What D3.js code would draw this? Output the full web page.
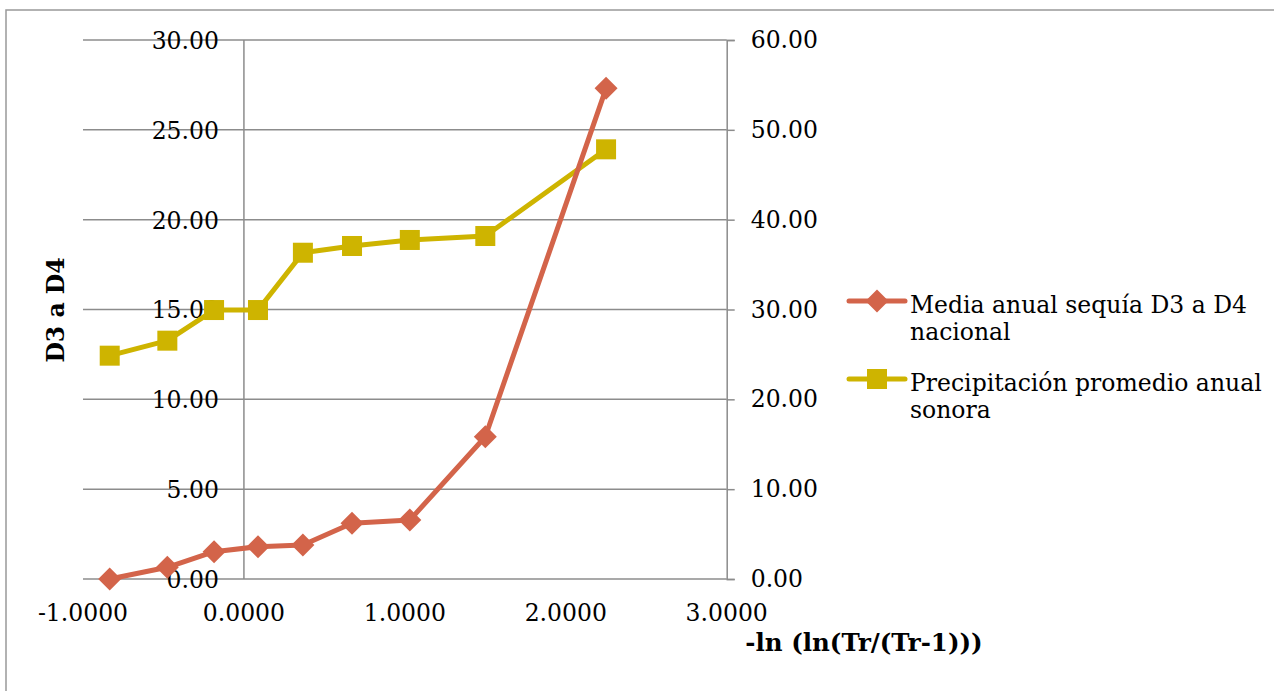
<!DOCTYPE html>
<html><head><meta charset="utf-8">
<script src="https://cdn.jsdelivr.net/npm/d3@7"></script>
<style>
html,body{margin:0;padding:0;background:#fff;}
svg{display:block;}
text{font-family:"DejaVu Serif",serif;fill:#000;}
</style></head>
<body>
<svg id="c" width="1274" height="691"></svg>
<script>
// Data
const xValues = [-0.8340, -0.4759, -0.1856, 0.0874, 0.3665, 0.6717, 1.0309, 1.4999, 2.2504];
const sequiaD3D4 = [0.00, 0.65, 1.52, 1.80, 1.89, 3.10, 3.28, 7.92, 27.31];
const precipSonora = [24.86, 26.53, 29.94, 29.94, 36.32, 37.07, 37.74, 38.18, 47.83];
const xTicks = [-1, 0, 1, 2, 3];
const yLeftTicks = [0, 5, 10, 15, 20, 25, 30];
const yRightTicks = [0, 10, 20, 30, 40, 50, 60];
const seriesNames = ["Media anual sequía D3 a D4|nacional", "Precipitación promedio anual|sonora"];
const xTitle = "-ln (ln(Tr/(Tr-1)))";
const yTitle = "D3 a D4";

const RED = "#D3644A", YEL = "#CEB400", GRID = "#8c8c8c";
const svg = d3.select("#c");
const fmt2 = v => d3.format(".2f")(v).replace("\u2212", "-");
const fmt4 = v => d3.format(".4f")(v).replace("\u2212", "-");

// outer border
svg.append("rect").attr("x", 6).attr("y", 10).attr("width", 1300).attr("height", 700)
  .attr("fill", "none").attr("stroke", "#999").attr("stroke-width", 1.5);

const x = d3.scaleLinear().domain([-1, 3]).range([83, 726.7]);
const yL = d3.scaleLinear().domain([0, 30]).range([579, 40]);
const yR = d3.scaleLinear().domain([0, 60]).range([579, 40]);

// gridlines
svg.append("g").selectAll("line").data(yLeftTicks).join("line")
  .attr("x1", x(-1)).attr("x2", x(3)).attr("y1", d => yL(d)).attr("y2", d => yL(d))
  .attr("stroke", GRID).attr("stroke-width", 1.5);

// vertical axis at x=0
svg.append("line").attr("x1", x(0)).attr("x2", x(0)).attr("y1", yL(0)).attr("y2", yL(30))
  .attr("stroke", GRID).attr("stroke-width", 1.5);

// right axis
const rAxis = svg.append("g").attr("transform", `translate(${x(3)},0)`)
  .call(d3.axisRight(yR).tickValues(yRightTicks).tickSize(8).tickPadding(16).tickFormat(fmt2));
rAxis.select(".domain").attr("stroke", GRID).attr("stroke-width", 1.5);
rAxis.selectAll(".tick line").attr("stroke", GRID).attr("stroke-width", 1.5);
rAxis.selectAll("text").attr("font-size", 23.5).attr("font-family", "DejaVu Serif").attr("fill", "#000");

// left axis labels (placed at x=0 crossing)
svg.append("g").selectAll("text").data(yLeftTicks).join("text")
  .attr("x", x(0) - 25).attr("y", d => yL(d)).attr("dy", "0.38em")
  .attr("text-anchor", "end").attr("font-size", 23.5)
  .text(d => fmt2(d));

// x axis labels
svg.append("g").selectAll("text").data(xTicks).join("text")
  .attr("x", d => x(d)).attr("y", 621)
  .attr("text-anchor", "middle").attr("font-size", 23.5)
  .text(d => fmt4(d));

// titles
svg.append("text").attr("x", 864).attr("y", 651).attr("text-anchor", "middle")
  .attr("font-size", 24.5).attr("font-weight", "bold").text(xTitle);
svg.append("text").attr("transform", "translate(64,310) rotate(-90)").attr("text-anchor", "middle")
  .attr("font-size", 23.5).attr("font-weight", "bold").text(yTitle);

const data = xValues.map((v, i) => ({x: v, a: sequiaD3D4[i], b: precipSonora[i]}));

// yellow series (secondary) drawn first
const lineB = d3.line().x(d => x(d.x)).y(d => yR(d.b));
svg.append("path").datum(data).attr("d", lineB).attr("fill", "none")
  .attr("stroke", YEL).attr("stroke-width", 5).attr("stroke-linejoin", "round");
svg.append("g").selectAll("rect").data(data).join("rect")
  .attr("x", d => x(d.x) - 10).attr("y", d => yR(d.b) - 10).attr("width", 20).attr("height", 20)
  .attr("fill", YEL);

// red series
const lineA = d3.line().x(d => x(d.x)).y(d => yL(d.a));
svg.append("path").datum(data).attr("d", lineA).attr("fill", "none")
  .attr("stroke", RED).attr("stroke-width", 5).attr("stroke-linejoin", "round");
const diamond = "M0,-11.5L11.5,0L0,11.5L-11.5,0Z";
svg.append("g").selectAll("path").data(data).join("path")
  .attr("transform", d => `translate(${x(d.x)},${yL(d.a)})`).attr("d", diamond).attr("fill", RED);

// legend
const leg = [
  {name: seriesNames[0], color: RED, sym: "d", y: 301},
  {name: seriesNames[1], color: YEL, sym: "s", y: 379}
];
leg.forEach(l => {
  svg.append("line").attr("x1", 849).attr("x2", 905).attr("y1", l.y).attr("y2", l.y)
    .attr("stroke", l.color).attr("stroke-width", 5).attr("stroke-linecap", "round");
  if (l.sym === "d") svg.append("path").attr("d", diamond).attr("transform", `translate(877,${l.y})`).attr("fill", l.color);
  else svg.append("rect").attr("x", 867).attr("y", l.y - 10).attr("width", 20).attr("height", 20).attr("fill", l.color);
  const parts = l.name.split("|");
  const t = svg.append("text").attr("x", 910).attr("y", l.y + 12).attr("font-size", 23.5);
  parts.forEach((p, i) => t.append("tspan").attr("x", 910).attr("dy", i === 0 ? 0 : 27).text(p));
});
</script>
</body></html>
